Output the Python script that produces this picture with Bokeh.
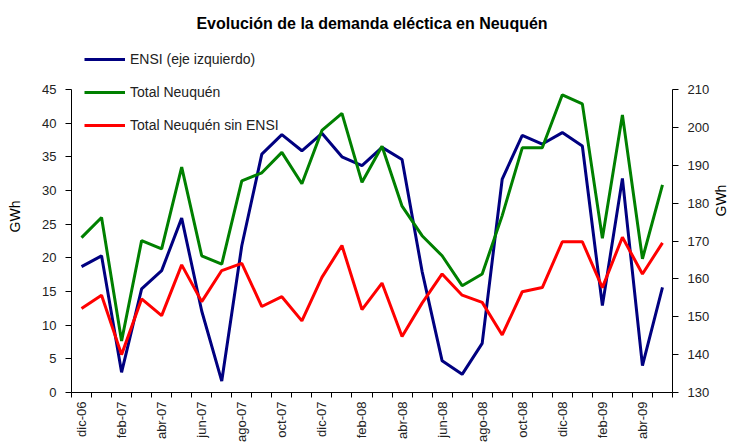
import math
from bokeh.plotting import figure
from bokeh.models import Range1d, LinearAxis, FixedTicker, Legend, LegendItem
from bokeh.embed import file_html
from bokeh.resources import INLINE

months = ["dic-06", "ene-07", "feb-07", "mar-07", "abr-07", "may-07", "jun-07", "jul-07",
          "ago-07", "sep-07", "oct-07", "nov-07", "dic-07", "ene-08", "feb-08", "mar-08",
          "abr-08", "may-08", "jun-08", "jul-08", "ago-08", "sep-08", "oct-08", "nov-08",
          "dic-08", "ene-09", "feb-09", "mar-09", "abr-09", "may-09"]

ensi = [18.7, 20.3, 3.0, 15.4, 18.1, 25.9, 12.1, 1.7, 21.8, 35.4,
        38.3, 35.9, 38.5, 35.0, 33.7, 36.4, 34.6, 18.0, 4.7, 2.7,
        7.3, 31.7, 38.2, 36.9, 38.6, 36.6, 12.9, 31.8, 4.0, 15.6]

total = [170.9, 176.2, 143.6, 170.1, 167.9, 189.5, 166.1, 163.9, 185.9, 188.0,
         193.4, 185.1, 199.2, 203.7, 185.5, 195.0, 179.2, 171.4, 166.1, 158.2,
         161.3, 176.7, 194.6, 194.6, 208.6, 206.2, 170.7, 203.3, 165.3, 184.8]

sin_ensi = [152.2, 155.7, 140.0, 154.7, 150.3, 163.7, 154.0, 162.2, 164.1, 152.7,
            155.3, 148.9, 160.4, 168.8, 151.9, 158.9, 144.8, 153.6, 161.3, 155.7,
            153.8, 145.2, 156.6, 157.7, 169.8, 169.8, 157.7, 171.0, 161.3, 169.5]

left_ticks = [0, 5, 10, 15, 20, 25, 30, 35, 40, 45]
right_ticks = [130, 140, 150, 160, 170, 180, 190, 200, 210]

title_text = "Evolución de la demanda eléctica en Neuquén"
labels = ["ENSI (eje izquierdo)", "Total Neuquén", "Total Neuquén sin ENSI"]
colors = ["#000080", "#008000", "#FF0000"]

FONT = "Liberation Sans"
n = len(months)
xs = [i + 0.5 for i in range(n)]

# frame is taller than the axes so that the legend (which starts above the axes) is not clipped
W, H = 740, 446
B_LEFT, B_RIGHT, B_TOP, B_BOTTOM = 71, 63, 40, 54
frame_h = H - B_TOP - B_BOTTOM
axis_h = 303.0
l_lo, l_hi = left_ticks[0], left_ticks[-1]
r_lo, r_hi = right_ticks[0], right_ticks[-1]
l_top = l_lo + (l_hi - l_lo) * frame_h / axis_h
r_top = r_lo + (r_hi - r_lo) * frame_h / axis_h

p = figure(width=W, height=H, output_backend="svg", toolbar_location=None,
           x_range=Range1d(0, n), y_range=Range1d(l_lo, l_top),
           min_border_left=B_LEFT, min_border_right=B_RIGHT,
           min_border_top=B_TOP, min_border_bottom=B_BOTTOM,
           title=title_text)
p.extra_y_ranges = {"right": Range1d(r_lo, r_top)}

p.title.align = "center"
p.title.text_font = FONT
p.title.text_font_size = "16px"
p.title.text_font_style = "bold"
p.title.text_color = "#000000"
p.title.standoff = 18

p.xgrid.visible = False
p.ygrid.visible = False
p.outline_line_color = None
p.background_fill_color = "white"
p.border_fill_color = "white"

r1 = p.line(xs, ensi, line_color=colors[0], line_width=3)
r2 = p.line(xs, total, line_color=colors[1], line_width=3, y_range_name="right")
r3 = p.line(xs, sin_ensi, line_color=colors[2], line_width=3, y_range_name="right")

# x axis
xa = p.xaxis[0]
major = [i + 0.5 for i in range(0, n, 2)]
xa.ticker = FixedTicker(ticks=major, minor_ticks=list(range(0, n + 1)))
xa.major_label_overrides = {i + 0.5: months[i] for i in range(0, n, 2)}
xa.major_label_orientation = math.pi / 2
xa.major_tick_line_color = None
xa.major_tick_in = 0
xa.major_tick_out = 5
xa.minor_tick_in = 0
xa.minor_tick_out = 5
xa.minor_tick_line_color = "#000000"
xa.axis_line_color = "#000000"
xa.major_label_text_font = FONT
xa.major_label_text_font_size = "13px"
xa.major_label_text_color = "#222222"
xa.major_label_standoff = 4

# left axis
ya = p.yaxis[0]
ya.ticker = FixedTicker(ticks=left_ticks)
ya.bounds = (l_lo, l_hi)
ya.minor_tick_line_color = None
ya.major_tick_in = 0
ya.major_tick_out = 6
ya.axis_line_color = "#000000"
ya.major_tick_line_color = "#000000"
ya.major_label_text_font = FONT
ya.major_label_text_font_size = "13px"
ya.major_label_text_color = "#222222"
ya.major_label_standoff = 9
ya.axis_label = "GWh"
ya.axis_label_text_font = FONT
ya.axis_label_text_font_size = "14px"
ya.axis_label_text_font_style = "normal"
ya.axis_label_text_color = "#000000"
ya.axis_label_standoff = 16

# right axis
ra = LinearAxis(y_range_name="right", ticker=FixedTicker(ticks=right_ticks))
ra.bounds = (r_lo, r_hi)
ra.minor_tick_line_color = None
ra.major_tick_in = 0
ra.major_tick_out = 6
ra.axis_line_color = "#000000"
ra.major_tick_line_color = "#000000"
ra.major_label_text_font = FONT
ra.major_label_text_font_size = "13px"
ra.major_label_text_color = "#222222"
ra.major_label_standoff = 9
ra.axis_label = "GWh"
ra.axis_label_text_font = FONT
ra.axis_label_text_font_size = "14px"
ra.axis_label_text_font_style = "normal"
ra.axis_label_text_color = "#000000"
ra.axis_label_standoff = 9
ra.axis_label_orientation = math.pi / 2
p.add_layout(ra, "right")

legend = Legend(items=[LegendItem(label=labels[0], renderers=[r1]),
                       LegendItem(label=labels[1], renderers=[r2]),
                       LegendItem(label=labels[2], renderers=[r3])],
                location=(13, 257), orientation="vertical")
legend.padding = 0
legend.margin = 0
legend.spacing = 13
legend.glyph_width = 41
legend.glyph_height = 20
legend.label_height = 20
legend.label_standoff = 5
legend.label_text_font = FONT
legend.label_text_font_size = "14px"
legend.label_text_color = "#222222"
legend.border_line_color = None
legend.background_fill_alpha = 0
p.add_layout(legend, "center")

open("out.html", "w").write(file_html(p, INLINE))
